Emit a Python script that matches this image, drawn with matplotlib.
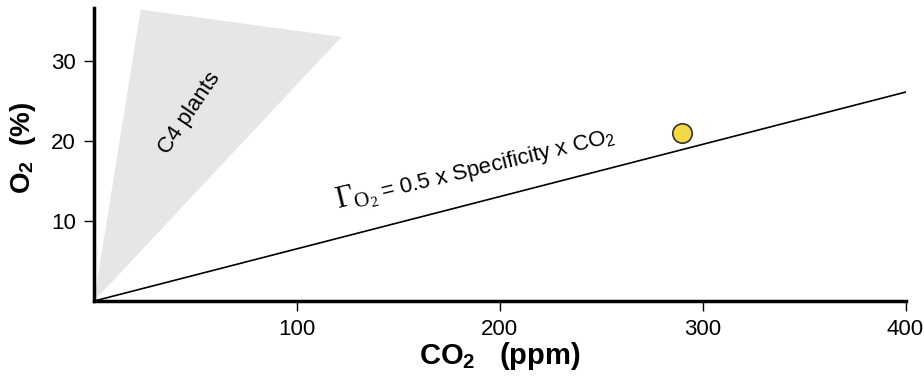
import matplotlib.pyplot as plt
import numpy as np

plt.rcParams['font.family'] = ['Liberation Sans', 'DejaVu Sans']
plt.rcParams['mathtext.fontset'] = 'custom'
plt.rcParams['mathtext.rm'] = 'Liberation Serif'
plt.rcParams['mathtext.sf'] = 'Liberation Sans'
plt.rcParams['mathtext.bf'] = 'Liberation Sans:bold'
plt.rcParams['mathtext.it'] = 'Liberation Serif:italic'

# Data
line_co2 = [0, 400]
line_o2 = [0, 26.1]
c4_co2 = [0, 23, 122]
c4_o2 = [0, 36.4, 33]
point_co2 = [290]
point_o2 = [21]
xticks = [100, 200, 300, 400]
yticks = [10, 20, 30]

fig = plt.figure(figsize=(9.24, 3.84), dpi=100)
ax = fig.add_axes([0.1017, 0.216, 0.8783, 0.763])

ax.fill(c4_co2, c4_o2, color='#e6e6e6', edgecolor='none', zorder=1)
ax.plot(line_co2, line_o2, color='black', linewidth=1.2, zorder=2)
ax.plot(point_co2, point_o2, 'o', markersize=14, markerfacecolor='#f4d844',
        markeredgecolor='#333333', markeredgewidth=1.2, zorder=3)

ax.text(47, 23.5, 'C4 plants', rotation=56, ha='center', va='center', fontsize=16)

# equation label: big serif Gamma, then the rest in sans
angle = 13.6
ax.annotate(r'$\mathrm{\Gamma_{O_2}}$', xy=(120, 11.5), ha='left', va='baseline',
            rotation=angle, rotation_mode='anchor', fontsize=22)
off = 33
ax.annotate(r'= 0.5 x Specificity x CO$_\mathsf{2}$', xy=(120, 11.5),
            xytext=(off * np.cos(np.radians(angle)), off * np.sin(np.radians(angle))),
            textcoords='offset points', ha='left', va='baseline',
            rotation=angle, rotation_mode='anchor', fontsize=16)

ax.set_xlim(0, 400)
ax.set_ylim(0, 36.6)
ax.set_xticks(xticks)
ax.set_yticks(yticks)
ax.tick_params(labelsize=16, width=1, length=7, pad=6)

for side in ['top', 'right']:
    ax.spines[side].set_visible(False)
for side in ['left', 'bottom']:
    ax.spines[side].set_linewidth(2.5)

ax.set_xlabel(r'CO$_\mathbf{2}$   (ppm)', fontsize=21, fontweight='bold', labelpad=0)
ax.set_ylabel(r'O$_\mathbf{2}$  (%)', fontsize=20, fontweight='bold', labelpad=6)
ax.yaxis.set_label_coords(-0.069, 0.522)

fig.savefig('out.png', dpi=100)
